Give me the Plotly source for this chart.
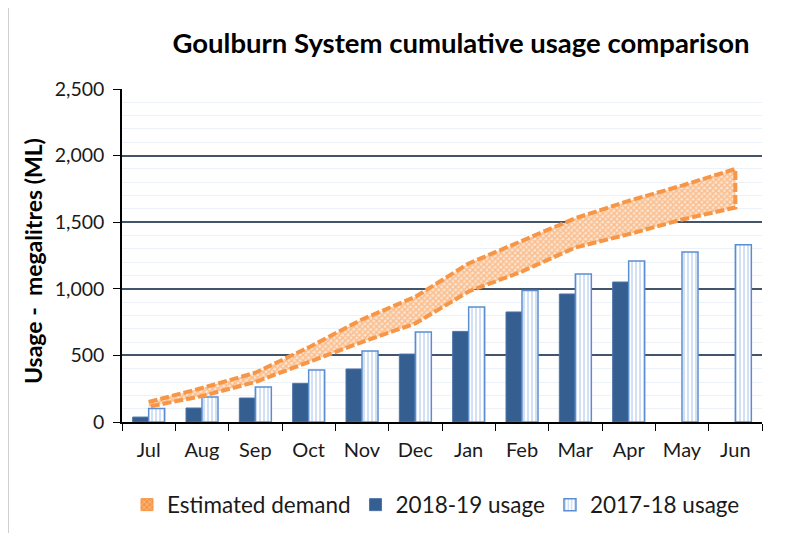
import plotly.graph_objects as go

months = ["Jul", "Aug", "Sep", "Oct", "Nov", "Dec", "Jan", "Feb", "Mar", "Apr", "May", "Jun"]
usage_2018_19 = [37, 105, 180, 290, 398, 510, 680, 826, 961, 1051, None, None]
usage_2017_18 = [102, 188, 263, 390, 533, 676, 863, 987, 1111, 1209, 1276, 1331]
demand_upper = [150, 255, 370, 560, 770, 940, 1190, 1360, 1530, 1660, 1775, 1900]
demand_lower = [115, 195, 300, 450, 600, 740, 980, 1130, 1310, 1410, 1520, 1610]
y_ticks = [0, 500, 1000, 1500, 2000, 2500]

FONT = "Lato"
ORANGE = "#F79646"
OFF = 8  # page body margin
W, H = 795 - OFF, 533 - OFF
L, T = 122 - OFF, 89 - OFF
R, B = W - (762 - OFF), H - (422 - OFF)
PW, PH = W - L - R, H - T - B


def px(xp):
    return (xp - OFF - L) / PW


def py(yp):
    return (H - B - (yp - OFF)) / PH


fig = go.Figure()

fig.add_trace(go.Scatter(
    x=months + months[::-1],
    y=demand_upper + demand_lower[::-1],
    fill="toself",
    mode="lines",
    line=dict(color=ORANGE, width=4, dash="9px,3px"),
    fillcolor="rgba(255,255,255,0)",
    fillpattern=dict(shape="x", fgcolor=ORANGE, bgcolor="#FCE3CF", size=4, solidity=0.6),
    name="Estimated demand",
    showlegend=False,
    hoverinfo="skip",
))

fig.add_trace(go.Bar(
    x=months, y=usage_2018_19, name="2018-19 usage",
    marker=dict(color="#365F91", line=dict(color="#4A74A8", width=1)),
))
fig.add_trace(go.Bar(
    x=months, y=usage_2017_18, name="2017-18 usage",
    marker=dict(color="white", line=dict(color="#5B8ED0", width=1.5),
                pattern=dict(shape="|", fgcolor="#8DB4E2", bgcolor="white", size=4, solidity=0.4)),
))
# legend entry for the demand band (on hidden overlay axes so it doesn't take a bar slot)
fig.add_trace(go.Bar(
    x=[months[0]], y=[None], name="Estimated demand", xaxis="x2", yaxis="y2",
    marker=dict(color=ORANGE, line=dict(color=ORANGE, width=1),
                pattern=dict(shape="x", fgcolor="white", bgcolor=ORANGE, size=5, solidity=0.3)),
    legendrank=1,
))

fig.update_layout(
    width=W, height=H,
    margin=dict(l=L, r=R, t=T, b=B, autoexpand=False),
    paper_bgcolor="white", plot_bgcolor="white",
    title=dict(text="<b>Goulburn System cumulative usage comparison</b>",
               x=px(461), xref="paper", xanchor="center", y=1 - (43 - OFF) / H, yanchor="middle",
               font=dict(family=FONT, size=27.5, color="black")),
    barmode="group", bargap=0.4, bargroupgap=0,
    font=dict(family=FONT, size=20, color="#1a1a1a"),
    showlegend=True,
    legend=dict(orientation="h", x=px(436), xanchor="center", y=py(505), yanchor="middle",
                font=dict(family=FONT, size=22.5, color="#1a1a1a"),
                traceorder="normal", itemwidth=30),
    xaxis=dict(type="category", categoryorder="array", categoryarray=months,
               showline=True, linecolor="black", linewidth=1.5,
               ticks="outside", tickson="boundaries", ticklen=7, tickcolor="black",
               showgrid=False, tickfont=dict(size=20), ticklabelstandoff=9, automargin=False),
    yaxis=dict(range=[0, 2500], tickvals=y_ticks, tickformat=",",
               showline=True, linecolor="black", linewidth=1.5,
               ticks="outside", ticklen=7, tickcolor="black",
               showgrid=True, gridcolor="#44546A", gridwidth=1.5,
               minor=dict(dtick=100, showgrid=True, gridcolor="#EDF2F8", gridwidth=1),
               zeroline=False, tickfont=dict(size=19.5), ticklabelstandoff=5, automargin=False),
    xaxis2=dict(overlaying="x", visible=False, type="category"),
    yaxis2=dict(overlaying="y", visible=False, range=[0, 1]),
)

fig.add_annotation(text="<b>Usage -  megalitres (ML)</b>", textangle=-90,
                   xref="paper", yref="paper", x=px(33), y=py(261),
                   xanchor="center", yanchor="middle", showarrow=False,
                   font=dict(family=FONT, size=23, color="black"))

fig.add_shape(type="rect", xref="paper", yref="paper",
              x0=px(8.5), x1=px(800),
              y0=py(545), y1=py(7.5),
              line=dict(color="#D0D0D0", width=1), layer="below")

fig.write_html("out.html")
